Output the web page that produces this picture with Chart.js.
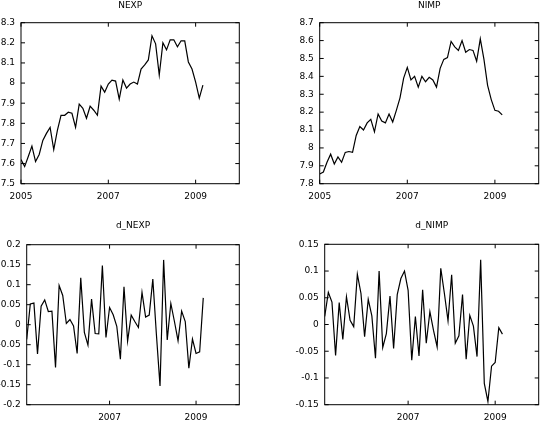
<!DOCTYPE html>
<html>
<head>
<meta charset="utf-8">
<script src="https://cdn.jsdelivr.net/npm/chart.js@4.4.0/dist/chart.umd.min.js"></script>
<style>
body { margin: 0; background: #fff; }
#wrap { position: relative; width: 546px; height: 436px; }
canvas { position: absolute; }
</style>
</head>
<body>
<div id="wrap">
  <canvas id="nexp" width="273" height="218" style="left:0;top:0"></canvas>
  <canvas id="nimp" width="273" height="218" style="left:273px;top:0"></canvas>
  <canvas id="dnexp" width="273" height="218" style="left:0;top:218px"></canvas>
  <canvas id="dnimp" width="273" height="218" style="left:273px;top:218px"></canvas>
</div>
<script>
// monthly series, 2005:01 - 2009:03
const startYear = 2005;
const endYear = 2010;

const nexp = [7.62, 7.585, 7.635, 7.687, 7.61, 7.645, 7.715, 7.75, 7.78, 7.67, 7.765, 7.84,
    7.84, 7.855, 7.85, 7.78, 7.895, 7.875, 7.825, 7.885, 7.865, 7.84, 7.985, 7.955,
    7.995, 8.015, 8.01, 7.92, 8.015, 7.975, 7.995, 8.005, 7.995, 8.07, 8.09, 8.115,
    8.235, 8.195, 8.04, 8.2, 8.165, 8.215, 8.215, 8.18, 8.21, 8.21, 8.105, 8.07,
    8.005, 7.925, 7.99];

const nimp = [7.854, 7.865, 7.92, 7.965, 7.91, 7.95, 7.92, 7.975, 7.98, 7.975, 8.07, 8.12,
    8.10, 8.14, 8.16, 8.09, 8.19, 8.15, 8.14, 8.19, 8.145, 8.21, 8.28, 8.39,
    8.45, 8.38, 8.40, 8.34, 8.40, 8.37, 8.395, 8.38, 8.34, 8.445, 8.495, 8.505,
    8.595, 8.565, 8.545, 8.60, 8.535, 8.55, 8.545, 8.485, 8.61, 8.495, 8.35, 8.27,
    8.21, 8.205, 8.185];

// first differences start in 2005:02
const dNexp = [-0.037, 0.052, 0.054, -0.073, 0.046, 0.062, 0.033, 0.034, -0.107, 0.098, 0.073,
    0.003, 0.013, -0.003, -0.072, 0.117, -0.019, -0.051, 0.064, -0.022, -0.023, 0.148, -0.032,
    0.043, 0.025, -0.004, -0.086, 0.095, -0.041, 0.024, 0.008, -0.007, 0.081, 0.019, 0.024,
    0.114, -0.025, -0.153, 0.162, -0.038, 0.053, 0.008, -0.04, 0.034, 0.008, -0.109, -0.036,
    -0.072, -0.068, 0.067];

const dNimp = [0.015, 0.06, 0.042, -0.058, 0.041, -0.028, 0.052, 0.008, -0.004, 0.094, 0.058,
    -0.023, 0.047, 0.016, -0.063, 0.1, -0.043, -0.017, 0.053, -0.045, 0.056, 0.086, 0.1,
    0.064, -0.067, 0.015, -0.059, 0.065, -0.035, 0.024, -0.011, -0.042, 0.105, 0.058, 0.007,
    0.093, -0.035, -0.021, 0.056, -0.065, 0.017, -0.003, -0.06, 0.121, -0.11, -0.144, -0.078,
    -0.071, -0.006, -0.018];

const levelTicksX = [2005, 2007, 2009];
const diffTicksX = [2007, 2009];

const tickFont = { family: 'DejaVu Sans', size: 9 };

// box round the plot with inward ticks on all four sides
const framePlugin = {
    id: 'frame',
    afterDraw(chart) {
        const { ctx, chartArea: a, scales: { x, y } } = chart;
        const len = 4;
        ctx.save();
        ctx.strokeStyle = '#000';
        ctx.lineWidth = 1;
        ctx.strokeRect(a.left, a.top, a.width, a.height);
        ctx.beginPath();
        x.ticks.forEach(t => {
            const px = x.getPixelForValue(t.value);
            ctx.moveTo(px, a.bottom); ctx.lineTo(px, a.bottom - len);
            ctx.moveTo(px, a.top); ctx.lineTo(px, a.top + len);
        });
        y.ticks.forEach(t => {
            const py = y.getPixelForValue(t.value);
            ctx.moveTo(a.left, py); ctx.lineTo(a.left + len, py);
            ctx.moveTo(a.right, py); ctx.lineTo(a.right - len, py);
        });
        ctx.stroke();
        ctx.restore();
    }
};

function drawPanel(id, p) {
    const points = p.values.map((v, i) => ({ x: startYear + (i + p.offset) / 12, y: v }));
    const g = p.area;
    new Chart(document.getElementById(id), {
        type: 'line',
        data: {
            datasets: [{
                data: points,
                borderColor: '#000',
                borderWidth: 1.2,
                pointRadius: 0,
                tension: 0,
                fill: false,
            }],
        },
        options: {
            responsive: false,
            animation: false,
            events: [],
            layout: {
                padding: { left: 0, right: 273 - g.right, top: 0, bottom: 218 - g.bottom - 24 }
            },
            plugins: {
                legend: { display: false },
                tooltip: { enabled: false },
                title: {
                    display: true,
                    text: p.title,
                    fullSize: false,
                    color: '#000',
                    font: { family: 'DejaVu Sans', size: 9, weight: 'normal' },
                    padding: { top: g.titleTop, bottom: g.top - g.titleTop - 10.8 }
                }
            },
            scales: {
                x: {
                    type: 'linear',
                    min: startYear + p.offset / 12,
                    max: endYear,
                    grid: { display: false, drawTicks: false },
                    border: { display: false },
                    afterBuildTicks: s => { s.ticks = p.xTicks.map(v => ({ value: v })); },
                    afterFit: s => { s.height = 24; },
                    ticks: {
                        color: '#000',
                        font: tickFont,
                        padding: 8,
                        maxRotation: 0,
                        autoSkip: false,
                        callback: v => String(v)
                    }
                },
                y: {
                    min: p.yMin,
                    max: p.yMax,
                    grid: { display: false, drawTicks: false },
                    border: { display: false },
                    afterFit: s => { s.width = g.left; },
                    ticks: {
                        stepSize: p.yStep,
                        color: '#000',
                        font: tickFont,
                        padding: 6,
                        callback: v => String(parseFloat(v.toFixed(2)))
                    }
                }
            }
        },
        plugins: [framePlugin]
    });
}

drawPanel('nexp', {
    title: 'NEXP', values: nexp, offset: 0, xTicks: levelTicksX,
    yMin: 7.5, yMax: 8.3, yStep: 0.1,
    area: { left: 21, right: 239.3, top: 22.7, bottom: 183.7, titleTop: 0 }
});
drawPanel('nimp', {
    title: 'NIMP', values: nimp, offset: 0, xTicks: levelTicksX,
    yMin: 7.8, yMax: 8.7, yStep: 0.1,
    area: { left: 46.7, right: 265.7, top: 22.7, bottom: 183.7, titleTop: 0 }
});
drawPanel('dnexp', {
    title: 'd_NEXP', values: dNexp, offset: 1, xTicks: diffTicksX,
    yMin: -0.2, yMax: 0.2, yStep: 0.05,
    area: { left: 26.7, right: 239.3, top: 26.7, bottom: 186.7, titleTop: 2.6 }
});
drawPanel('dnimp', {
    title: 'd_NIMP', values: dNimp, offset: 1, xTicks: diffTicksX,
    yMin: -0.15, yMax: 0.15, yStep: 0.05,
    area: { left: 51.7, right: 265.7, top: 26.3, bottom: 186.7, titleTop: 2.6 }
});
</script>
</body>
</html>
